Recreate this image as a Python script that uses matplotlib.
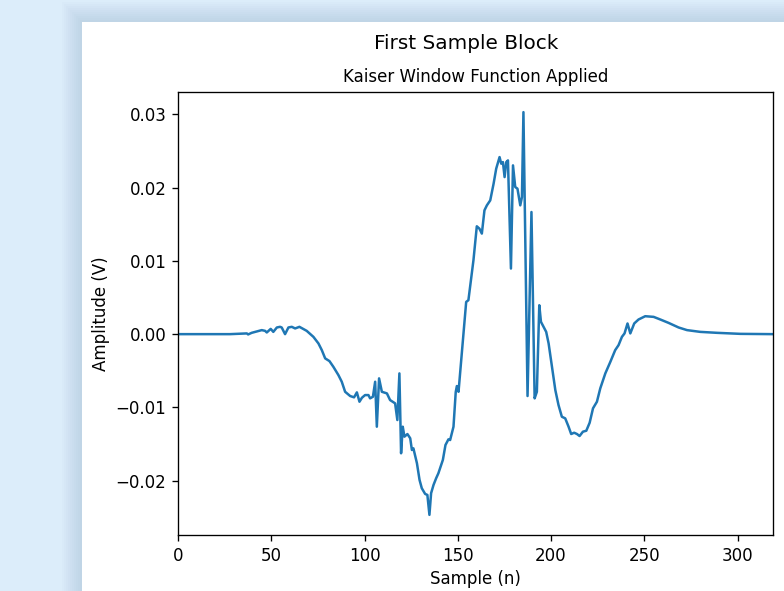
import numpy as np
import matplotlib
matplotlib.use("Agg")
import matplotlib.pyplot as plt
from matplotlib.patches import Rectangle

# vertices of the traced signal: sample index and amplitude (V)
sample_n = [0, 22.5, 27.9, 36.9, 37.6, 39.5, 44.9, 46.7, 47.6, 49.7, 51.1, 53.0, 54.7, 55.6,
            57.4, 59.2, 61.0, 62.8, 65.1, 69.0, 72.6, 75.3, 77.1, 78.9, 81.2, 83.3, 86.0,
            87.8, 89.6, 92.3, 94.4, 95.9, 97.3, 98.6, 100.3, 102.1, 103.0, 104.5, 105.7,
            106.6, 107.8, 109.3, 112.0, 113.7, 116.4, 117.6, 118.7, 119.6, 120.5, 121.4,
            123.0, 124.5, 125.4, 126.2, 128.1, 129.5, 130.7, 132.5, 133.7, 134.8, 135.7,
            137.0, 138.4, 139.6, 142.0, 143.4, 145.0, 145.9, 147.7, 148.9, 149.5, 150.4,
            153.1, 154.5, 155.7, 158.4, 160.2, 161.6, 162.9, 164.3, 165.6, 167.4, 169.2,
            170.6, 172.4, 173.3, 174.2, 175.1, 176.0, 176.9, 178.5, 179.6, 180.8, 182.0,
            183.5, 184.4, 185.2, 187.4, 189.5, 191.2, 192.4, 193.7, 194.6, 196.0, 197.4,
            198.7, 200.5, 202.3, 204.0, 205.8, 207.6, 209.4, 210.8, 212.4, 213.9, 215.3,
            217.1, 218.9, 220.7, 222.5, 224.6, 226.4, 229.1, 231.8, 234.4, 236.2, 238.0,
            239.4, 241.0, 242.5, 244.6, 246.9, 250.5, 255.0, 258.6, 263.0, 268.4, 272.9,
            280.0, 289.0, 301.5, 319.0]
amplitude = [0.0, 0.0, 0.0, 0.0001, -0.00004, 0.00018, 0.00055, 0.00045, 0.00023, 0.00072,
             0.00031, 0.00091, 0.001, 0.00091, 0.0, 0.00091, 0.001, 0.00078, 0.001, 0.00045,
             -0.00037, -0.00127, -0.00218, -0.00331, -0.00368, -0.00446, -0.00559, -0.0065,
             -0.00787, -0.00845, -0.00863, -0.00795, -0.00923, -0.00869, -0.00832, -0.00832,
             -0.00877, -0.00855, -0.0065, -0.01264, -0.00604, -0.00787, -0.00809, -0.009,
             -0.00945, -0.01173, -0.00536, -0.01627, -0.01264, -0.014, -0.01364, -0.01422,
             -0.01582, -0.01559, -0.01763, -0.01991, -0.02104, -0.02182, -0.02196, -0.02468,
             -0.02172, -0.02059, -0.01968, -0.019, -0.01718, -0.01514, -0.01436, -0.01446,
             -0.01264, -0.00791, -0.00709, -0.00787, 0.0001, 0.0044, 0.00464, 0.01009,
             0.01473, 0.01441, 0.01373, 0.01691, 0.01759, 0.01827, 0.02055, 0.0226, 0.02418,
             0.02328, 0.0235, 0.02145, 0.0235, 0.02373, 0.00896, 0.02305, 0.02009, 0.01987,
             0.01759, 0.01872, 0.03032, -0.00845, 0.01668, -0.00877, -0.00787, 0.00395,
             0.00168, 0.001, 0.00031, -0.00127, -0.00446, -0.00764, -0.00968, -0.01128,
             -0.0115, -0.01264, -0.01364, -0.01346, -0.01364, -0.01391, -0.01332, -0.01319,
             -0.0121, -0.01013, -0.00923, -0.0074, -0.00536, -0.00378, -0.00218, -0.0015,
             -0.00037, 0.0001, 0.00146, 0.0001, 0.00146, 0.002, 0.00245, 0.00236, 0.002,
             0.00154, 0.00091, 0.00055, 0.00031, 0.00018, 0.00004, 0.0]

W, H = 784, 591
fig = plt.figure(figsize=(W / 100, H / 100), dpi=100)
fig.patch.set_facecolor("#dcedfa")

# soft shadow behind the white figure panel
px, py = 82, 22
for i in range(10):
    off = 20 - i * 2
    fig.patches.append(Rectangle(((px - off) / W, 0), 1, (H - py + off) / H,
                                 transform=fig.transFigure, color="#6f8ca5",
                                 alpha=0.022, lw=0, zorder=0))
fig.patches.append(Rectangle((px / W, 0), 1, (H - py) / H, transform=fig.transFigure,
                             color="white", lw=0, zorder=1))

s = 1.2  # the screenshot shows the figure at 120 dpi
left, right, top, bottom = 178, 773, 92, 535
ax = fig.add_axes([left / W, 1 - bottom / H, (right - left) / W, (bottom - top) / H])
ax.set_zorder(3)
ax.plot(sample_n, amplitude, color="#1f77b4", lw=1.5 * s)
ax.set_xlim(0, 319)
ax.set_xlabel("Sample (n)", fontsize=10 * s)
ax.set_ylabel("Amplitude (V)", fontsize=10 * s)
ax.set_title("Kaiser Window Function Applied", fontsize=10 * s, pad=6 * s)
ax.tick_params(labelsize=10 * s, length=3.5 * s, width=0.8 * s, pad=3.5 * s)
for sp in ax.spines.values():
    sp.set_linewidth(0.8 * s)

fig.text((px + 384) / W, 1 - (py + 0.02 * 576) / H, "First Sample Block",
         fontsize=12 * s, ha="center", va="top", zorder=3)

fig.savefig("out.png", dpi=100, facecolor=fig.get_facecolor())
